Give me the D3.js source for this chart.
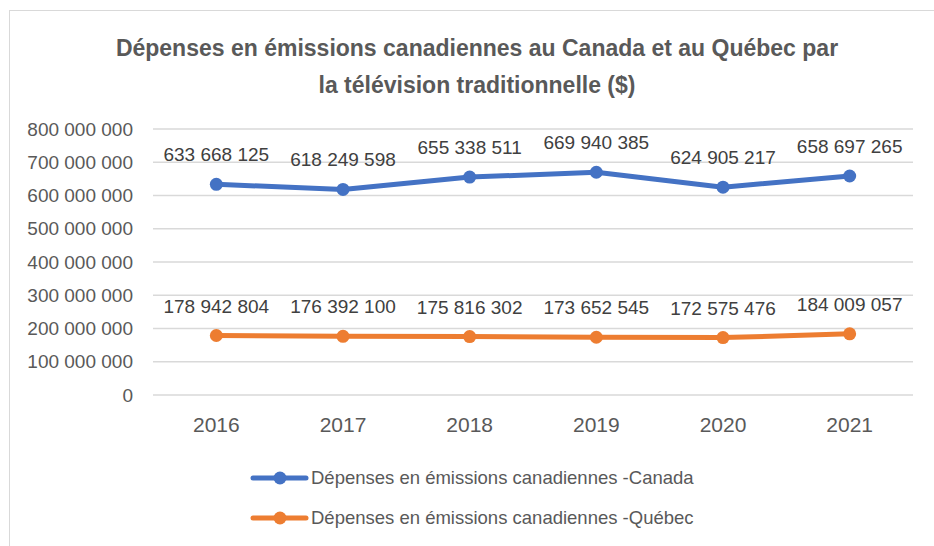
<!DOCTYPE html>
<html><head><meta charset="utf-8">
<script src="https://cdn.jsdelivr.net/npm/d3@7"></script>
<style>body{margin:0;background:#fff}svg{display:block}text{font-family:"Liberation Sans",Arial,sans-serif}</style>
</head><body><svg id="c" width="934" height="546"></svg>
<script>
const years = ["2016","2017","2018","2019","2020","2021"];
const canada = [633668125, 618249598, 655338511, 669940385, 624905217, 658697265];
const quebec = [178942804, 176392100, 175816302, 173652545, 172575476, 184009057];
const yTicks = [0,100000000,200000000,300000000,400000000,500000000,600000000,700000000,800000000];
const seriesNames = ["Dépenses en émissions canadiennes -Canada","Dépenses en émissions canadiennes -Québec"];
const colors = ["#4472C4","#ED7D31"];
const titleLines = ["Dépenses en émissions canadiennes au Canada et au Québec par","la télévision traditionnelle ($)"];

const svg = d3.select("#c");
const fmt = v => d3.format(",")(v).replace(/,/g," ");
svg.append("rect").attr("x",9.5).attr("y",10.5).attr("width",940).attr("height",560)
  .attr("fill","#fff").attr("stroke","#d9d9d9").attr("stroke-width",1);

const x = d3.scaleBand().domain(years).range([153,913]);
const y = d3.scaleLinear().domain([0,800000000]).range([395,129]);

const grid = svg.append("g");
grid.selectAll("line").data(yTicks).join("line")
  .attr("x1",153).attr("x2",913).attr("y1",d=>y(d)).attr("y2",d=>y(d))
  .attr("stroke","#d9d9d9").attr("stroke-width",1.3);

const yAxis = svg.append("g").attr("transform","translate(153,0)")
  .call(d3.axisLeft(y).tickValues(yTicks).tickFormat(fmt).tickSize(0).tickPadding(20));
yAxis.select(".domain").remove();
yAxis.selectAll("text").attr("fill","#595959").style("font-size","19px").attr("font-family","Liberation Sans, Arial, sans-serif");

const xAxis = svg.append("g").attr("transform","translate(0,395)")
  .call(d3.axisBottom(x).tickSize(0).tickPadding(22));
xAxis.select(".domain").remove();
xAxis.selectAll("text").attr("fill","#595959").style("font-size","21px").attr("font-family","Liberation Sans, Arial, sans-serif");

svg.selectAll(".title").data(titleLines).join("text")
  .attr("x",477).attr("y",(d,i)=>56+i*37).attr("text-anchor","middle")
  .attr("fill","#595959").style("font-size","23px").style("font-weight","bold").text(d=>d);

const cx = d => x(d)+x.bandwidth()/2;
[canada,quebec].forEach((vals,si)=>{
  const data = years.map((yr,i)=>({yr, v: vals[i]}));
  const line = d3.line().x(d=>cx(d.yr)).y(d=>y(d.v));
  svg.append("path").datum(data).attr("d",line).attr("fill","none")
    .attr("stroke",colors[si]).attr("stroke-width",5).attr("stroke-linejoin","round");
  svg.append("g").selectAll("circle").data(data).join("circle")
    .attr("cx",d=>cx(d.yr)).attr("cy",d=>y(d.v)).attr("r",6.5).attr("fill",colors[si]);
  svg.append("g").selectAll("text").data(data).join("text")
    .attr("x",d=>cx(d.yr)).attr("y",d=>y(d.v)-23).attr("text-anchor","middle")
    .attr("fill","#404040").style("font-size","19px").text(d=>fmt(d.v));
});

const leg = svg.append("g");
seriesNames.forEach((n,i)=>{
  const ly = 478 + i*40;
  leg.append("line").attr("x1",253).attr("x2",306).attr("y1",ly).attr("y2",ly)
    .attr("stroke",colors[i]).attr("stroke-width",5).attr("stroke-linecap","round");
  leg.append("circle").attr("cx",280).attr("cy",ly).attr("r",6.5).attr("fill",colors[i]);
  leg.append("text").attr("x",311).attr("y",ly+6).attr("fill","#595959").style("font-size","18.5px").text(n);
});
</script></body></html>
